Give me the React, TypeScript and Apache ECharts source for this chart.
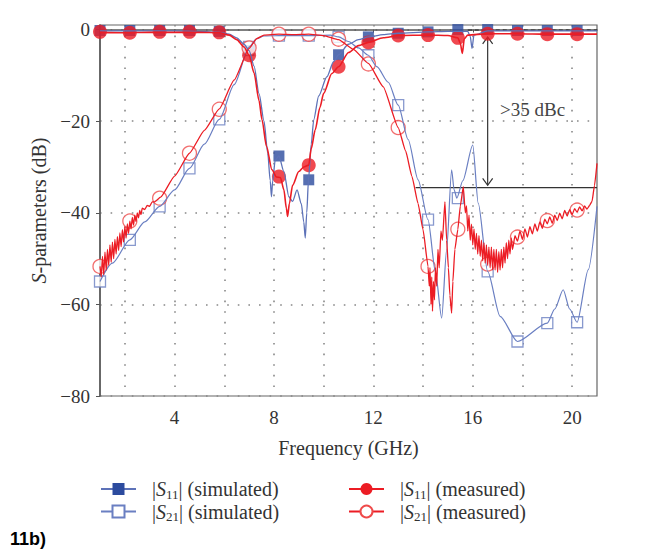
import React, { useEffect, useRef } from 'react';
import * as echarts from 'echarts';

// ---- marker positions (GHz) and values (dB) ----
const MARK_FREQ = [1, 2.2, 3.4, 4.6, 5.8, 7.0, 8.2, 9.4, 10.6, 11.8, 13.0, 14.2, 15.4, 16.6, 17.8, 19.0, 20.2];
const S11_SIM_MARKS = [-0.2, -0.2, -0.2, -0.2, -0.4, -4.6, -27.6, -32.8, -5.5, -1.6, -0.8, -0.5, 0, 0, -0.2, -0.2, -0.2];
const S21_SIM_MARKS = [-55, -45.9, -38.6, -30.3, -19.6, -3.8, -1.3, -1.3, -1.6, -5.6, -16.5, -41.5, -36.8, -52.8, -68.1, -64.1, -63.9];
const S11_MEAS_MARKS = [-0.5, -0.7, -0.5, -0.5, -0.6, -5.6, -32.1, -29.6, -8.1, -2.8, -1.3, -1.2, -1.8, -0.9, -0.9, -1.0, -1.0];
const S21_MEAS_MARKS = [-51.7, -41.8, -36.8, -27, -17.4, -4, -1, -1, -2.1, -7.5, -21.4, -51.7, -43.6, -51.2, -45.3, -41.7, -39.4];

// ---- traces [GHz, dB] ----
const S11_SIM_LINE = [
  [1, -0.3], [2, -0.3], [3, -0.3], [4, -0.3], [5, -0.4], [5.8, -0.6], [6.2, -1.0], [6.5, -1.8], [6.8, -3.2], [7.0, -4.6],
  [7.2, -8], [7.4, -14], [7.6, -20], [7.75, -27], [7.85, -33], [7.9, -36.5], [7.95, -33], [8.05, -28.5], [8.2, -27.6],
  [8.4, -31], [8.6, -36.5], [8.75, -37.5], [8.93, -35], [9.1, -38], [9.2, -42], [9.26, -45.5], [9.32, -40], [9.39, -32.8],
  [9.5, -25], [9.6, -19.7], [9.8, -14.5], [10.13, -10.3], [10.4, -7], [10.6, -5.5], [11.0, -3.2], [11.4, -2.2], [11.8, -1.6],
  [12.4, -1.1], [13.0, -0.8], [14.2, -0.5], [15.0, -0.4], [15.8, -0.4], [15.9, -1.5], [15.97, -4.1], [16.05, -1.2],
  [16.6, -0.3], [17.8, -0.3], [19, -0.3], [20.2, -0.3], [21, -0.3],
];
const S21_SIM_LINE = [
  [1, -55], [1.5, -51], [2.2, -45.9], [2.8, -42], [3.4, -38.6], [4.0, -35], [4.6, -30.3], [5.2, -25], [5.8, -19.6],
  [6.4, -12], [7.0, -3.8], [7.3, -2], [7.6, -1.4], [8.2, -1.3], [9.4, -1.3], [10.27, -1.2], [10.6, -1.6], [11.0, -2.6],
  [11.4, -4], [11.8, -5.6], [12.14, -8.1], [12.6, -11.5], [13.0, -16.5], [13.4, -24], [13.8, -32.8], [14.2, -41.5],
  [14.5, -53], [14.75, -63], [14.95, -48], [15.15, -30.6], [15.25, -35], [15.36, -36.8], [15.6, -33], [16.0, -25.2],
  [16.22, -37.9], [16.6, -52.8], [17.1, -62.6], [17.8, -68.1], [19.0, -64.1], [19.3, -61], [19.64, -56.8], [19.9, -61],
  [20.2, -63.9], [20.65, -52.4], [21, -38.6],
];
const S11_MEAS_LINE = [
  [1, -0.6], [2, -0.7], [3, -0.6], [4, -0.6], [5, -0.6], [5.8, -0.7], [6.2, -1.2], [6.5, -2.2], [6.8, -3.8], [7.0, -5.6],
  [7.2, -9.5], [7.4, -15.5], [7.52, -19.7], [7.7, -25.5], [7.92, -30.6], [8.1, -32.2], [8.26, -32.3], [8.4, -35],
  [8.5, -39], [8.55, -40.8], [8.62, -38], [8.75, -34], [9.0, -31], [9.2, -30], [9.4, -29.6], [9.5, -26], [9.66, -21.9],
  [9.85, -17], [10.0, -13.9], [10.33, -9.6], [10.6, -8.1], [11.0, -5], [11.4, -3.5], [11.8, -2.8], [12.4, -1.8],
  [13, -1.3], [14.2, -1.2], [15.0, -1.3], [15.4, -1.8], [15.5, -3], [15.58, -5.2], [15.66, -2], [15.8, -1.2],
  [16.6, -0.9], [17.8, -0.9], [19, -1.0], [20.2, -1.0], [21, -1.0],
];
const S21_MEAS_LINE = [
  [1.0, -51.7], [1.05, -54], [1.1, -49.5], [1.15, -53.5], [1.2, -48.6], [1.25, -52.5], [1.3, -48], [1.35, -51.5],
  [1.4, -47], [1.45, -50.8], [1.5, -46.4], [1.55, -50], [1.6, -45.8], [1.65, -49], [1.7, -45.2], [1.75, -48.2],
  [1.8, -44.4], [1.85, -47.4], [1.9, -43.7], [1.95, -46.4], [2.0, -43.0], [2.05, -45.5], [2.1, -42.4], [2.15, -44.5],
  [2.2, -41.8], [2.25, -43.5], [2.3, -41.0], [2.35, -42.7], [2.4, -40.5], [2.45, -41.9], [2.5, -40.0], [2.55, -41.1],
  [2.6, -39.5], [2.65, -40.4], [2.7, -39.0], [2.8, -39.3], [2.9, -38.4], [3.0, -38.6], [3.1, -37.6], [3.2, -37.6],
  [3.44, -36.6], [4.0, -32], [4.6, -27], [5.2, -22], [5.8, -17.3], [6.4, -11], [7.0, -4.1], [7.3, -2], [7.6, -1.2],
  [8.2, -1.0], [8.8, -1.1], [9.4, -1.0], [10.0, -1.3], [10.6, -2.2], [11.2, -4.3], [11.8, -7.4], [12.4, -12.5],
  [13.0, -21.4], [13.3, -26.5], [13.55, -32], [13.8, -38], [14.0, -43.7], [14.2, -51.7], [14.25, -56], [14.28, -52],
  [14.32, -60], [14.35, -54], [14.38, -61.5], [14.42, -55], [14.46, -59], [14.5, -52], [14.55, -56], [14.6, -48],
  [14.65, -52], [14.72, -44], [14.78, -46], [14.88, -37.6], [14.95, -46], [15.02, -52], [15.08, -58], [15.15, -61.9],
  [15.2, -55], [15.28, -48], [15.4, -43.6], [15.5, -38.5], [15.62, -34.3], [15.7, -40], [15.75, -38.5], [15.8, -44],
  [15.85, -40.5], [15.9, -46], [15.95, -42.5], [16.0, -47], [16.05, -43.5], [16.1, -48], [16.15, -44.5], [16.2, -49],
  [16.25, -45], [16.3, -49.5], [16.35, -46], [16.4, -50.5], [16.45, -46.5], [16.5, -51], [16.55, -47], [16.6, -51.5],
  [16.65, -47.5], [16.7, -52], [16.75, -47.5], [16.8, -52.5], [16.85, -48], [16.9, -52.5], [16.95, -48], [17.0, -53],
  [17.05, -48.5], [17.1, -52.5], [17.15, -48], [17.2, -52], [17.25, -47.5], [17.3, -51], [17.35, -46.5], [17.4, -50],
  [17.45, -46], [17.5, -49], [17.55, -45.5], [17.6, -48], [17.7, -45], [17.8, -46.2], [17.9, -44], [18.0, -45.8],
  [18.1, -43.5], [18.2, -45.3], [18.3, -43], [18.4, -44.6], [18.5, -42.4], [18.6, -44], [18.7, -42], [18.8, -43.4],
  [18.9, -41.4], [19.0, -42.4], [19.1, -40.9], [19.2, -42.3], [19.3, -40.5], [19.4, -41.7], [19.5, -40.1], [19.6, -41.3],
  [19.7, -39.5], [19.8, -40.7], [19.9, -39.3], [20.0, -40.4], [20.1, -39.1], [20.2, -39.9], [20.3, -38.7], [20.4, -39.6],
  [20.5, -38.5], [20.6, -39.2], [20.7, -38.4], [20.8, -37.5], [20.9, -34], [21.0, -29.2],
];

// ---- annotation ----
const ANNOT_X = 16.6;
const ANNOT_TOP = -1.6;
const ANNOT_LEVEL = -34.5;
const ANNOT_FROM = 13.7;
const ANNOT_TEXT = '>35 dBc';
const ANNOT_TEXT_POS = [17.1, -17.5];
const DASH_REF = [15.8, 21, -0.1];

const X_LABELS = [4, 8, 12, 16, 20];
const Y_LABELS = [0, -20, -40, -60, -80];

const SERIF = 'Liberation Serif';
const BLUE_LINE = '#5d72b8';
const BLUE_FILL = '#2c4b9e';
const BLUE_OPEN = '#6a7fc2';
const RED = '#ec1c24';
const RED_OPEN = '#ef4a4a';
const TXT = '#333';

const N_S11_SIM = 'S11 simulated';
const N_S21_SIM = 'S21 simulated';
const N_S11_MEAS = 'S11 measured';
const N_S21_MEAS = 'S21 measured';

const marks = (vals: number[]) => MARK_FREQ.map((f, i) => [f, vals[i]]);

const legendFormatter = (name: string) => {
  const sub = name.startsWith('S11') ? '11' : '21';
  const kind = name.includes('sim') ? 'simulated' : 'measured';
  return `|{i|S}{s|${sub}}| (${kind})`;
};
const legendText = {
  fontFamily: SERIF,
  fontSize: 20,
  color: TXT,
  padding: [0, 0, 0, 11],
  rich: {
    i: { fontFamily: SERIF, fontSize: 20, fontStyle: 'italic', color: TXT },
    s: { fontFamily: SERIF, fontSize: 13, color: TXT, padding: [10, 0, 0, 0] },
  },
};

export default function App() {
  const ref = useRef<HTMLDivElement>(null);
  useEffect(() => {
    document.body.style.margin = '0';
    const chart = echarts.init(ref.current!, null, { renderer: 'svg' });
    const option: any = {
      animation: false,
      backgroundColor: '#fff',
      textStyle: { fontFamily: SERIF },
      grid: { left: 100, right: 53, top: 25, bottom: 159, show: true, borderColor: '#666', borderWidth: 1.2 },
      legend: [
        {
          data: [N_S11_SIM, N_S21_SIM], orient: 'vertical', left: 100, top: 479, padding: 0,
          itemWidth: 35, itemHeight: 15, itemGap: 1, formatter: legendFormatter, textStyle: legendText,
        },
        {
          data: [N_S11_MEAS, N_S21_MEAS], orient: 'vertical', left: 348, top: 479, padding: 0,
          itemWidth: 35, itemHeight: 15, itemGap: 1, formatter: legendFormatter, textStyle: legendText,
        },
      ],
      graphic: [
        { type: 'text', left: 10, top: 530, style: { text: '11b)', font: 'bold 18px Liberation Sans', fill: '#000' } },
      ],
      xAxis: {
        type: 'value', min: 1, max: 21, splitNumber: 10,
        name: 'Frequency (GHz)', nameLocation: 'middle', nameGap: 42,
        nameTextStyle: { fontFamily: SERIF, fontSize: 20, color: TXT },
        axisLine: { lineStyle: { color: '#555', width: 1.5 } },
        axisTick: { show: true, length: 3, lineStyle: { color: '#555' }, customValues: [2, 4, 6, 8, 10, 12, 14, 16, 18, 20] },
        axisLabel: {
          fontFamily: SERIF, fontSize: 19, color: TXT, margin: 12,
          customValues: X_LABELS,
          formatter: (v: number) => (X_LABELS.includes(v) ? String(v) : ''),
        },
        splitLine: { show: true, lineStyle: { color: '#888', width: 1.6, type: [1.6, 9] } },
      },
      yAxis: {
        type: 'value', min: -80, max: 1, interval: 10,
        name: '{i|S}-parameters (dB)', nameLocation: 'middle', nameGap: 50,
        nameTextStyle: {
          fontFamily: SERIF, fontSize: 20, color: TXT,
          rich: { i: { fontFamily: SERIF, fontSize: 20, fontStyle: 'italic', color: TXT } },
        },
        axisLine: { show: true, lineStyle: { color: '#555', width: 1.5 } },
        axisTick: { show: true, length: 4, lineStyle: { color: '#555' }, customValues: Y_LABELS },
        axisLabel: {
          fontFamily: SERIF, fontSize: 19, color: TXT, margin: 10,
          customValues: Y_LABELS,
          formatter: (v: number) => (Y_LABELS.includes(v) ? (v < 0 ? '\u2212' + Math.abs(v) : String(v)) : ''),
        },
        splitLine: { show: true, lineStyle: { color: '#888', width: 1.6, type: [1.6, 9] } },
      },
      series: [
        {
          name: N_S21_SIM, type: 'line', data: S21_SIM_LINE, showSymbol: false, symbol: 'rect', smooth: 0.25,
          smoothMonotone: 'x', lineStyle: { color: BLUE_OPEN, width: 1.2 },
          itemStyle: { color: '#fff', borderColor: BLUE_OPEN, borderWidth: 1.3 },
        },
        {
          name: N_S11_SIM, type: 'line', data: S11_SIM_LINE, showSymbol: false, symbol: 'rect', smooth: 0.25,
          smoothMonotone: 'x', lineStyle: { color: BLUE_LINE, width: 1.3 },
          itemStyle: { color: BLUE_FILL, borderColor: BLUE_FILL, borderWidth: 0 },
        },
        {
          name: N_S21_MEAS, type: 'line', data: S21_MEAS_LINE, showSymbol: false, symbol: 'circle', smooth: 0.15,
          smoothMonotone: 'x', lineStyle: { color: RED, width: 1.3 },
          itemStyle: { color: '#fff', borderColor: RED_OPEN, borderWidth: 1.3 },
        },
        {
          name: N_S11_MEAS, type: 'line', data: S11_MEAS_LINE, showSymbol: false, symbol: 'circle', smooth: 0.25,
          smoothMonotone: 'x', lineStyle: { color: RED, width: 1.6 },
          itemStyle: { color: RED, borderColor: RED, borderWidth: 0 },
        },
        {
          name: 'annot', type: 'custom', coordinateSystem: 'cartesian2d', silent: true, clip: false,
          data: [[ANNOT_X, ANNOT_LEVEL]],
          renderItem: (_p: any, api: any) => {
            const a = api.coord([ANNOT_FROM, ANNOT_LEVEL]);
            const b = api.coord([21, ANNOT_LEVEL]);
            const t = api.coord([ANNOT_X, ANNOT_TOP]);
            const bt = api.coord([ANNOT_X, ANNOT_LEVEL + 0.5]);
            const tp = api.coord(ANNOT_TEXT_POS);
            const d0 = api.coord([DASH_REF[0], DASH_REF[2]]);
            const d1 = api.coord([DASH_REF[1], DASH_REF[2]]);
            const st = { stroke: '#333', lineWidth: 1.2, fill: 'none' };
            return {
              type: 'group',
              children: [
                { type: 'line', shape: { x1: d0[0], y1: d0[1], x2: d1[0], y2: d1[1] }, style: { stroke: '#222', lineWidth: 1, lineDash: [4, 3] } },
                { type: 'line', shape: { x1: a[0], y1: a[1], x2: b[0], y2: b[1] }, style: st },
                { type: 'line', shape: { x1: t[0], y1: t[1], x2: bt[0], y2: bt[1] }, style: st },
                { type: 'polyline', shape: { points: [[t[0] - 5, t[1] + 7], [t[0], t[1]], [t[0] + 5, t[1] + 7]] }, style: st },
                { type: 'polyline', shape: { points: [[bt[0] - 5, bt[1] - 7], [bt[0], bt[1]], [bt[0] + 5, bt[1] - 7]] }, style: st },
                {
                  type: 'text',
                  style: { text: ANNOT_TEXT, x: tp[0], y: tp[1], fontFamily: SERIF, fontSize: 19, fill: '#444', align: 'left', verticalAlign: 'middle' },
                },
              ],
            };
          },
        },
        {
          name: 'S21 sim marks', type: 'scatter', data: marks(S21_SIM_MARKS), symbol: 'rect', symbolSize: 11, clip: false,
          itemStyle: { color: '#fff', borderColor: BLUE_OPEN, borderWidth: 1.3 },
        },
        {
          name: 'S11 sim marks', type: 'scatter', data: marks(S11_SIM_MARKS), symbol: 'rect', symbolSize: 11, clip: false,
          itemStyle: { color: BLUE_FILL },
        },
        {
          name: 'S11 meas marks', type: 'scatter', data: marks(S11_MEAS_MARKS), symbol: 'circle', symbolSize: 14, clip: false,
          itemStyle: { color: RED },
        },
        {
          name: 'S21 meas marks', type: 'scatter', data: marks(S21_MEAS_MARKS), symbol: 'circle', symbolSize: 14, clip: false,
          itemStyle: { color: '#fff', borderColor: RED_OPEN, borderWidth: 1.3 },
        },
      ],
    };
    chart.setOption(option);
    return () => chart.dispose();
  }, []);
  return <div ref={ref} style={{ width: 650, height: 555, overflow: 'hidden' }} />;
}
